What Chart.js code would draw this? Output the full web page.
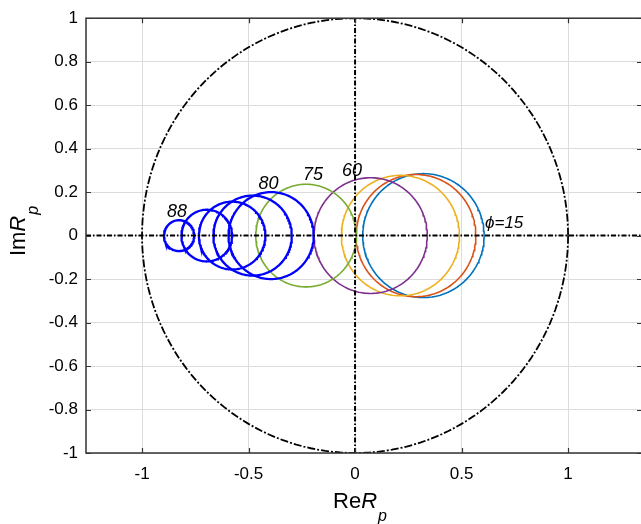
<!DOCTYPE html>
<html>
<head>
<meta charset="utf-8">
<script src="https://cdn.jsdelivr.net/npm/chart.js@4"></script>
<style>
    html, body { margin: 0; padding: 0; background: #fff; overflow: hidden; }
    #chart { display: block; }
</style>
</head>
<body>
<canvas id="chart" width="645" height="524"></canvas>
<script>
// Ejes
const xRange = [-1.263, 1.347];
const yRange = [-1, 1];
const xTicks = [-1, -0.5, 0, 0.5, 1];
const yTicks = [-1, -0.8, -0.6, -0.4, -0.2, 0, 0.2, 0.4, 0.6, 0.8, 1];

// Circulos (centro en Re, radio) por angulo phi
const phi = [88, 86, 84, 82, 80, 75, 60, 45, 30, 15];
const centerRe = [-0.826, -0.696, -0.577, -0.481, -0.394, -0.230, 0.073, 0.213, 0.286, 0.321];
const radius = [0.071, 0.119, 0.156, 0.184, 0.200, 0.236, 0.266, 0.277, 0.281, 0.285];
const circleColors = ['#0000ff', '#0000ff', '#0000ff', '#0000ff', '#0000ff', '#77ac30', '#7e2f8e', '#edb120', '#d95319', '#0072bd'];

// Etiquetas de los circulos
const labelText = ['88', '80', '75', '60', '\u03d5=15'];
const labelRe = [-0.836, -0.406, -0.197, -0.014, 0.61];
const labelIm = [0.107, 0.237, 0.278, 0.298, 0.055];

const FONT = '"Liberation Sans", Arial, Helvetica, sans-serif';

function circlePoints(cx, cy, r) {
    const pts = [];
    for (let i = 0; i <= 180; i++) {
        const t = i / 180 * 2 * Math.PI;
        pts.push({ x: cx + r * Math.cos(t), y: cy + r * Math.sin(t) });
    }
    return pts;
}

const datasets = [];

// lineas de ejes (punto-raya)
datasets.push({
    label: 'Re axis',
    data: [{ x: xRange[0], y: 0 }, { x: xRange[1], y: 0 }],
    borderColor: '#000', borderWidth: 2, borderDash: [5, 2, 1.5, 2],
    order: 0
});
datasets.push({
    label: 'Im axis',
    data: [{ x: 0, y: yRange[0] }, { x: 0, y: yRange[1] }],
    borderColor: '#000', borderWidth: 2, borderDash: [5, 2, 1.5, 2],
    order: 0
});
// circulo unidad
datasets.push({
    label: '|R|=1',
    data: circlePoints(0, 0, 1),
    borderColor: '#000', borderWidth: 1.8, borderDash: [8, 2, 2, 2],
    order: 0
});

phi.forEach((p, i) => {
    datasets.push({
        label: 'phi=' + p,
        data: circlePoints(centerRe[i], 0, radius[i]),
        borderColor: circleColors[i],
        borderWidth: circleColors[i] === '#0000ff' ? 2.3 : 1.6,
        order: 1
    });
});

const decorPlugin = {
    id: 'decor',
    afterDatasetsDraw(chart) {
        const ctx = chart.ctx;
        const a = chart.chartArea;
        const xs = chart.scales.x, ys = chart.scales.y;
        ctx.save();
        // marco
        ctx.strokeStyle = '#333';
        ctx.lineWidth = 1.5;
        ctx.strokeRect(a.left, a.top, a.right - a.left, a.bottom - a.top);
        // ticks interiores
        ctx.beginPath();
        xTicks.forEach(v => {
            const px = Math.round(xs.getPixelForValue(v)) + 0.5;
            ctx.moveTo(px, a.bottom); ctx.lineTo(px, a.bottom - 5);
            ctx.moveTo(px, a.top); ctx.lineTo(px, a.top + 5);
        });
        yTicks.forEach(v => {
            const py = Math.round(ys.getPixelForValue(v)) + 0.5;
            ctx.moveTo(a.left, py); ctx.lineTo(a.left + 5, py);
            ctx.moveTo(a.right, py); ctx.lineTo(a.right - 5, py);
        });
        ctx.lineWidth = 1.2;
        ctx.stroke();

        // etiquetas de phi
        ctx.fillStyle = '#000';
        ctx.textBaseline = 'middle';
        labelText.forEach((t, i) => {
            const isPhi = t.indexOf('=') >= 0;
            ctx.font = 'italic ' + (isPhi ? 17 : 18) + 'px ' + FONT;
            ctx.textAlign = isPhi ? 'left' : 'center';
            ctx.fillText(t, xs.getPixelForValue(labelRe[i]), ys.getPixelForValue(labelIm[i]));
        });

        // titulos de ejes
        ctx.fillStyle = '#000';
        ctx.textAlign = 'left';
        ctx.textBaseline = 'alphabetic';
        const big = '22px ' + FONT, bigI = 'italic 22px ' + FONT, subI = 'italic 16px ' + FONT;
        function drawTitle(pre, x, y) {
            ctx.font = big; const w1 = ctx.measureText(pre).width;
            ctx.font = bigI; const w2 = ctx.measureText('R').width;
            ctx.font = subI; const w3 = ctx.measureText('p').width;
            let sx = x - (w1 + w2 + w3 + 1) / 2;
            ctx.font = big; ctx.fillText(pre, sx, y); sx += w1;
            ctx.font = bigI; ctx.fillText('R', sx, y); sx += w2 + 1;
            ctx.font = subI; ctx.fillText('p', sx, y + 13);
        }
        drawTitle('Re', 360, 508);
        ctx.translate(25, 231);
        ctx.rotate(-Math.PI / 2);
        drawTitle('Im', 0, 0);
        ctx.restore();
    }
};

const ctx = document.getElementById('chart').getContext('2d');
new Chart(ctx, {
    type: 'scatter',
    data: { datasets: datasets },
    options: {
        responsive: false,
        animation: false,
        showLine: true,
        elements: { point: { radius: 0, hoverRadius: 0 }, line: { tension: 0 } },
        layout: { padding: { top: 14, left: 0, right: 3, bottom: 0 } },
        plugins: { legend: { display: false }, tooltip: { enabled: false } },
        scales: {
            x: {
                type: 'linear',
                min: xRange[0], max: xRange[1],
                afterBuildTicks: scale => { scale.ticks = xTicks.map(v => ({ value: v })); },
                afterFit: scale => { scale.height = 71; },
                grid: { color: '#dcdcdc', lineWidth: 1, drawTicks: false },
                border: { display: false },
                ticks: {
                    padding: 11,
                    color: '#000',
                    font: { family: FONT, size: 17 },
                    callback: v => String(Math.round(v * 10) / 10)
                }
            },
            y: {
                type: 'linear',
                min: yRange[0], max: yRange[1],
                afterBuildTicks: scale => { scale.ticks = yTicks.map(v => ({ value: v })); },
                afterFit: scale => { scale.width = 86; },
                grid: { color: '#dcdcdc', lineWidth: 1, drawTicks: false },
                border: { display: false },
                ticks: {
                    padding: 8,
                    color: '#000',
                    font: { family: FONT, size: 17 },
                    callback: v => String(Math.round(v * 10) / 10)
                }
            }
        }
    },
    plugins: [decorPlugin]
});
</script>
</body>
</html>
